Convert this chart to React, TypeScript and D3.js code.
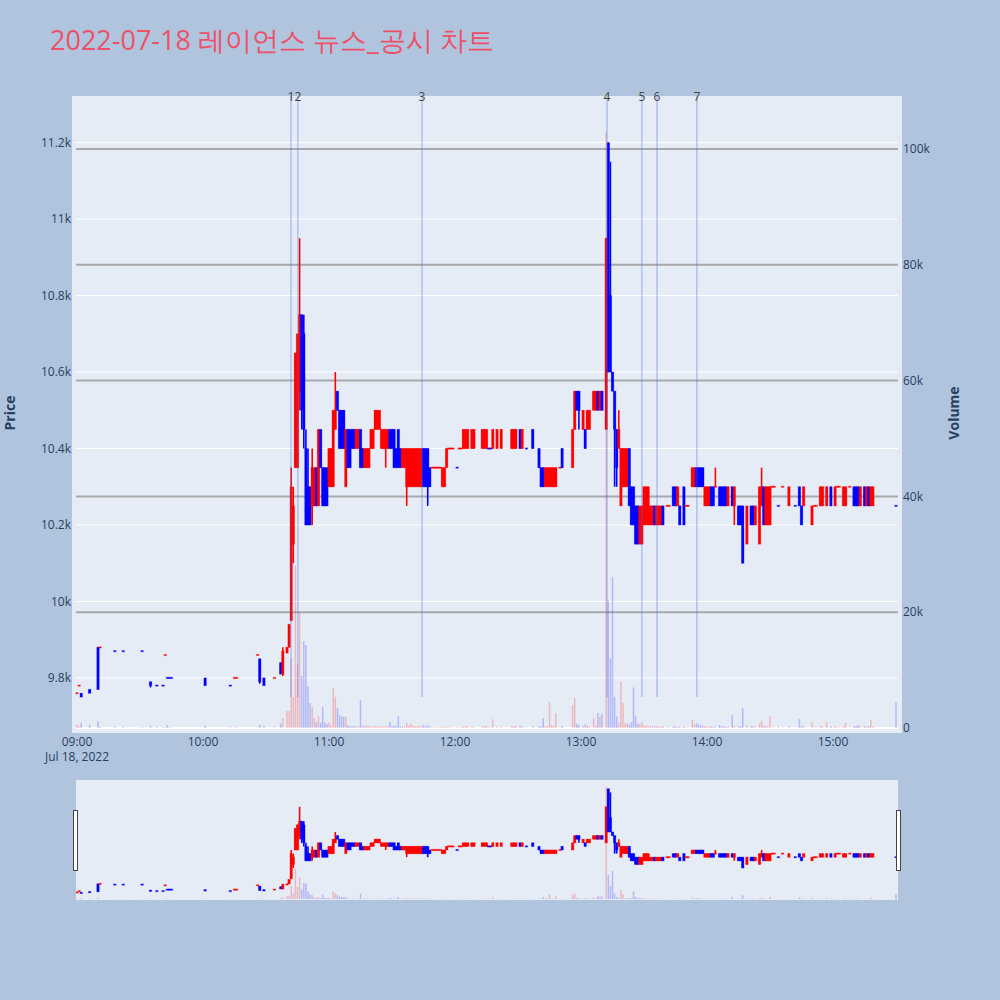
import React from 'react';
import * as d3 from 'd3';

// Each bar: [minute after 09:00, open, close, volume, high?, low?]
type Bar = number[];

const preSurge: Bar[] = [
  [0, 9760, 9760, 600], [1, 9780, 9780, 300], [2, 9760, 9750, 900], [6, 9770, 9760, 500],
  [10, 9880, 9770, 1200], [11, 9880, 9880, 200], [18, 9870, 9870, 200], [22, 9870, 9870, 150],
  [31, 9870, 9870, 150], [35, 9790, 9780, 400, 9790, 9775], [38, 9780, 9780, 150], [41, 9780, 9780, 150],
  [42, 9860, 9860, 100], [43, 9800, 9800, 500], [44, 9800, 9800, 100], [45, 9800, 9800, 100],
  [61, 9800, 9780, 400], [73, 9780, 9780, 100], [75, 9800, 9800, 100], [76, 9800, 9800, 100],
  [86, 9860, 9860, 100], [87, 9850, 9790, 600, 9850, 9785], [89, 9800, 9780, 400], [94, 9800, 9800, 150],
  [97, 9840, 9810, 800], [98, 9810, 9870, 1700, 9880, 9805], [100, 9865, 9880, 2900], [101, 9880, 9940, 2900],
];

const surge: Bar[] = [
  [102, 9950, 10300, 12000, 10350, 9950], [103, 10150, 10250, 5400, 10300, 10100],
  [104, 10350, 10650, 28000], [105, 10350, 10700, 11000], [106, 10550, 10750, 20000, 10950, 10500],
  [107, 10750, 10500, 9000, 10750, 10450], [108, 10700, 10450, 15000, 10750, 10400],
  [109, 10400, 10200, 14300, 10450], [110, 10300, 10200, 7200, 10400], [111, 10300, 10200, 4300],
  [112, 10250, 10350, 3600, 10400, 10200], [113, 10250, 10350, 1700], [114, 10350, 10250, 1000],
  [115, 10250, 10450, 2000], [116, 10450, 10350, 900], [117, 10350, 10250, 3600], [118, 10350, 10250, 1000],
  [119, 10350, 10250, 700], [120, 10300, 10400, 1000], [121, 10300, 10400, 500], [122, 10300, 10500, 6900],
  [123, 10450, 10500, 5400, 10600], [124, 10550, 10500, 3500], [125, 10500, 10400, 2200], [126, 10500, 10400, 2000],
  [127, 10500, 10400, 1900], [128, 10300, 10450, 2000], [129, 10450, 10350, 500], [130, 10450, 10350, 300],
  [131, 10450, 10400, 300], [132, 10450, 10400, 300], [133, 10400, 10450, 300], [134, 10400, 10450, 300],
  [135, 10450, 10350, 4800], [136, 10400, 10350, 300], [137, 10350, 10400, 400],
  [138, 10350, 10400, 400], [139, 10350, 10400, 300], [140, 10400, 10450, 300], [141, 10400, 10450, 200],
  [142, 10450, 10500, 400], [143, 10450, 10500, 300], [144, 10450, 10500, 300], [145, 10400, 10450, 200],
  [146, 10400, 10450, 200], [147, 10400, 10450, 300, 10450, 10350], [148, 10400, 10450, 300],
  [149, 10450, 10400, 1000], [150, 10450, 10400, 300], [151, 10450, 10350, 400], [152, 10400, 10350, 300],
  [153, 10450, 10350, 2000], [154, 10400, 10350, 300], [155, 10350, 10400, 300], [156, 10350, 10400, 300],
  [157, 10300, 10400, 900, 10400, 10250], [158, 10300, 10400, 400],
  [159, 10300, 10400, 700], [160, 10300, 10400, 400], [161, 10300, 10400, 300], [162, 10300, 10400, 300],
  [163, 10300, 10400, 300], [164, 10300, 10400, 300], [165, 10400, 10300, 500], [166, 10400, 10300, 300],
  [167, 10400, 10300, 500, 10400, 10250], [168, 10350, 10300, 200],
];

const midday: Bar[] = [
  [169, 10350, 10350, 100], [170, 10350, 10350, 100], [171, 10350, 10350, 100], [172, 10350, 10350, 100],
  [173, 10350, 10350, 100], [174, 10300, 10350, 200], [175, 10300, 10350, 200], [176, 10350, 10400, 200],
  [177, 10400, 10400, 100], [178, 10400, 10400, 100], [179, 10400, 10400, 100], [181, 10350, 10350, 100],
  [182, 10400, 10400, 100], [183, 10400, 10400, 100], [184, 10400, 10450, 300], [185, 10400, 10450, 300],
  [186, 10400, 10450, 300], [188, 10400, 10450, 200], [189, 10400, 10450, 200], [193, 10400, 10450, 300],
  [194, 10400, 10450, 300], [195, 10400, 10450, 300], [196, 10400, 10400, 100], [197, 10400, 10400, 100],
  [198, 10400, 10450, 1500], [200, 10400, 10450, 200], [202, 10400, 10450, 200], [207, 10400, 10450, 300],
  [208, 10400, 10450, 300], [209, 10400, 10450, 300], [211, 10450, 10400, 400], [212, 10400, 10450, 300],
  [214, 10400, 10400, 100], [217, 10450, 10400, 300], [220, 10400, 10350, 300], [221, 10350, 10300, 300],
  [222, 10350, 10300, 1700], [223, 10300, 10350, 400], [224, 10300, 10350, 300], [225, 10300, 10350, 4500],
  [226, 10300, 10350, 500], [227, 10300, 10350, 300], [228, 10300, 10350, 2600], [230, 10350, 10350, 100],
  [231, 10400, 10350, 300], [236, 10350, 10450, 4000], [237, 10450, 10550, 5200], [238, 10550, 10500, 800],
  [239, 10550, 10500, 500, 10550, 10450], [241, 10450, 10500, 400], [242, 10450, 10400, 600],
  [243, 10450, 10500, 400], [244, 10450, 10500, 300], [246, 10500, 10550, 1700], [247, 10500, 10550, 400],
  [248, 10550, 10500, 2600], [249, 10500, 10550, 2000], [250, 10550, 10500, 2500],
];

const spike: Bar[] = [
  [252, 10450, 10950, 103000], [253, 11200, 10600, 22000], [254, 10800, 10600, 12000, 11150],
  [255, 10600, 10550, 26000], [256, 10550, 10450, 5400, 10550, 10300], [257, 10450, 10350, 2000, 10450, 10300],
  [258, 10400, 10450, 900, 10500], [259, 10250, 10400, 8000], [260, 10300, 10400, 4300], [261, 10300, 10400, 800],
  [262, 10300, 10400, 800], [263, 10400, 10250, 600], [264, 10300, 10200, 1000], [265, 10300, 10200, 7000],
  [266, 10250, 10150, 2000], [267, 10250, 10150, 800], [268, 10150, 10250, 700], [269, 10150, 10250, 1000],
  [270, 10200, 10300, 400], [271, 10200, 10300, 400], [272, 10200, 10300, 300], [273, 10200, 10250, 300],
  [274, 10200, 10250, 400], [275, 10250, 10200, 300], [276, 10200, 10250, 300], [277, 10200, 10250, 300],
  [278, 10200, 10250, 200], [279, 10250, 10200, 300], [281, 10250, 10250, 100], [282, 10250, 10250, 100],
];

const afternoon: Bar[] = [
  [284, 10300, 10250, 300], [285, 10300, 10250, 300], [286, 10250, 10300, 200], [287, 10250, 10200, 200],
  [289, 10300, 10200, 200], [290, 10250, 10250, 100], [291, 10250, 10250, 100], [293, 10300, 10350, 1400],
  [294, 10300, 10350, 600], [295, 10350, 10300, 800], [296, 10350, 10300, 600], [297, 10350, 10300, 400],
  [298, 10350, 10300, 400], [299, 10250, 10300, 300], [300, 10250, 10300, 300], [301, 10250, 10300, 200],
  [302, 10300, 10250, 300], [303, 10300, 10250, 200], [304, 10300, 10300, 200, 10350], [306, 10300, 10250, 500],
  [307, 10300, 10250, 300], [308, 10300, 10250, 300], [309, 10300, 10250, 200], [310, 10250, 10300, 200],
  [312, 10300, 10250, 2200], [313, 10250, 10300, 300, 10300, 10200], [315, 10250, 10200, 300],
  [316, 10250, 10200, 300], [317, 10250, 10100, 3400], [319, 10150, 10250, 500], [321, 10250, 10200, 300],
  [322, 10250, 10200, 300], [323, 10200, 10250, 300], [325, 10150, 10300, 800], [326, 10250, 10300, 1200, 10350],
  [327, 10300, 10200, 300], [328, 10200, 10300, 300], [329, 10200, 10300, 300], [330, 10200, 10300, 2000],
  [331, 10300, 10300, 100], [332, 10300, 10300, 100], [334, 10250, 10250, 200], [336, 10300, 10300, 100],
  [339, 10250, 10300, 300], [342, 10250, 10250, 100], [344, 10300, 10250, 1500], [345, 10250, 10200, 300],
  [346, 10250, 10300, 300], [350, 10200, 10250, 1000], [351, 10250, 10250, 100], [352, 10250, 10250, 100],
  [354, 10250, 10300, 300], [355, 10250, 10300, 300], [357, 10250, 10300, 1000], [359, 10300, 10250, 300],
  [361, 10250, 10300, 300], [362, 10300, 10300, 100], [363, 10300, 10300, 100], [365, 10250, 10300, 300],
  [366, 10250, 10300, 900], [368, 10300, 10300, 100], [370, 10300, 10250, 300], [371, 10300, 10250, 300],
  [372, 10300, 10250, 500], [373, 10250, 10300, 300], [375, 10300, 10250, 300], [376, 10250, 10300, 300],
  [377, 10300, 10250, 300], [378, 10250, 10300, 1400], [379, 10250, 10300, 300], [390, 10250, 10250, 4500],
];

const SESSION_DATE = '2022-07-18';
const TITLE = '2022-07-18 레이언스 뉴스_공시 차트';
const NEWS_TIMES = ['10:41:54', '10:45:12', '11:44:18', '13:12:24', '13:29:00', '13:36:12', '13:55:12'];
const NEWS_LABELS = ['1', '2', '3', '4', '5', '6', '7'];
const NEWS_FLOOR_PRICE = 9750;
const PRICE_TICKS = [9800, 10000, 10200, 10400, 10600, 10800, 11000, 11200];
const VOLUME_TICKS = [0, 20000, 40000, 60000, 80000, 100000];
const X_RANGE = ['08:59:31', '15:30:57'];
const PRICE_RANGE = [9656, 11322];
const VOLUME_RANGE = [-864, 109154];

const FONT = '"Open Sans", verdana, arial, sans-serif';
const INK = '#2a3f5f';
const UP = '#ff0000';
const DOWN = '#0000ff';

type Row = { t: Date; o: number; c: number; h: number; l: number; v: number; inc: boolean };

function buildRows(): Row[] {
  const parse = d3.timeParse('%Y-%m-%d %H:%M:%S');
  const base = parse(`${SESSION_DATE} 09:00:00`) as Date;
  const all = [...preSurge, ...surge, ...midday, ...spike, ...afternoon];
  let prevC: number | null = null;
  let inc = true;
  return all.map((r) => {
    const [m, o, c, v, h, l] = r;
    if (c !== o) inc = c > o;
    else if (prevC !== null && c !== prevC) inc = c > prevC;
    prevC = c;
    return {
      t: d3.timeMinute.offset(base, m),
      o, c, v,
      h: Math.max(o, c, h ?? o),
      l: Math.min(o, c, l ?? o),
      inc,
    };
  });
}

function Candles({ rows, x, y, yv, k }: { rows: Row[]; x: any; y: any; yv: any; k: string }) {
  return (
    <g>
      {rows.map((d, i) => {
        const cx = x(d.t);
        const col = d.inc ? UP : DOWN;
        const top = y(Math.max(d.o, d.c));
        const bot = y(Math.min(d.o, d.c));
        const hgt = Math.max(bot - top, 1.2);
        return (
          <g key={`${k}c${i}`}>
            <line x1={cx} x2={cx} y1={y(d.h)} y2={y(d.l)} stroke={col} strokeWidth={1.6} />
            <rect x={cx - 1.2} y={top - (hgt - (bot - top)) / 2} width={2.4} height={hgt} fill={col}
              stroke={col} strokeOpacity={0.35} strokeWidth={1} />
          </g>
        );
      })}
      {rows.map((d, i) => {
        const cx = x(d.t);
        return (
          <rect key={`${k}v${i}`} x={cx - 0.75} width={1.5} y={yv(d.v)} height={Math.max(yv(0) - yv(d.v), 0)}
            fill={d.inc ? UP : DOWN} fillOpacity={0.22} />
        );
      })}
    </g>
  );
}

export default function App() {
  const rows = buildRows();
  const parse = d3.timeParse('%Y-%m-%d %H:%M:%S');
  const x = d3.scaleTime()
    .domain([parse(`${SESSION_DATE} ${X_RANGE[0]}`) as Date, parse(`${SESSION_DATE} ${X_RANGE[1]}`) as Date])
    .range([76, 898]);
  const y = d3.scaleLinear().domain(PRICE_RANGE).range([733, 96]);
  const yv = d3.scaleLinear().domain(VOLUME_RANGE).range([733, 96]);
  const ys = d3.scaleLinear().domain(PRICE_RANGE).range([900, 780]);
  const yvs = d3.scaleLinear().domain(VOLUME_RANGE).range([900, 780]);
  const fmt = d3.format('~s');
  const tfmt = d3.timeFormat('%H:%M');
  const xTicks = x.ticks(d3.timeHour.every(1) as any);
  const news = NEWS_TIMES.map((s) => parse(`${SESSION_DATE} ${s}`) as Date);

  return (
    <svg width={1000} height={1000} style={{ position: 'absolute', left: 0, top: 0, fontFamily: FONT }}>
      <defs>
        <clipPath id="plotclip"><rect x={72} y={96} width={830} height={637} /></clipPath>
        <clipPath id="sliderclip"><rect x={76} y={780} width={822} height={120} /></clipPath>
      </defs>
      <rect x={0} y={0} width={1000} height={1000} fill="#B0C4DE" />
      <text x={50} y={50} fontSize={27} fill="#ED5168">{TITLE}</text>

      <rect x={72} y={96} width={830} height={637} fill="#E5ECF6" />
      {PRICE_TICKS.map((t) => (
        <line key={`pg${t}`} x1={76} x2={898} y1={y(t)} y2={y(t)} stroke="#ffffff" strokeWidth={1} />
      ))}
      {VOLUME_TICKS.filter((t) => t > 0).map((t) => (
        <line key={`vg${t}`} x1={76} x2={898} y1={yv(t)} y2={yv(t)} stroke="#a9a9ad" strokeWidth={2} />
      ))}
      <line x1={76} x2={898} y1={yv(0)} y2={yv(0)} stroke="#ffffff" strokeWidth={2} />

      <g clipPath="url(#plotclip)">
        <Candles rows={rows} x={x} y={y} yv={yv} k="m" />
      </g>

      {news.map((t, i) => (
        <g key={`n${i}`}>
          <line x1={x(t)} x2={x(t)} y1={96} y2={y(NEWS_FLOOR_PRICE)} stroke="rgb(65,105,225)" strokeOpacity={0.5} strokeWidth={1} />
          <text x={x(t)} y={101} fontSize={12} fill="#444" textAnchor="middle">{NEWS_LABELS[i]}</text>
        </g>
      ))}

      {PRICE_TICKS.map((t) => (
        <text key={`pl${t}`} x={71} y={y(t)} dy="0.35em" fontSize={12} fill={INK} textAnchor="end">{fmt(t)}</text>
      ))}
      {VOLUME_TICKS.map((t) => (
        <text key={`vl${t}`} x={903} y={yv(t)} dy="0.35em" fontSize={12} fill={INK} textAnchor="start">{fmt(t)}</text>
      ))}
      {xTicks.map((t, i) => (
        <g key={`xt${i}`}>
          <text x={x(t)} y={746} fontSize={12} fill={INK} textAnchor="middle">{tfmt(t)}</text>
          {i === 0 && (
            <text x={x(t)} y={761} fontSize={12} fill={INK} textAnchor="middle">{d3.timeFormat('%b %-d, %Y')(t)}</text>
          )}
        </g>
      ))}

      <text transform="translate(15,413) rotate(-90)" fontSize={14} fontWeight="bold" fill={INK} textAnchor="middle">Price</text>
      <text transform="translate(959,413) rotate(-90)" fontSize={14} fontWeight="bold" fill={INK} textAnchor="middle">Volume</text>

      <rect x={76} y={780} width={822} height={120} fill="#E5ECF6" />
      <g clipPath="url(#sliderclip)">
        <Candles rows={rows} x={x} y={ys} yv={yvs} k="s" />
      </g>
      <rect x={73.5} y={810.5} width={4} height={60} fill="#ffffff" stroke="#444" strokeWidth={1} />
      <rect x={896.5} y={810.5} width={4} height={60} fill="#ffffff" stroke="#444" strokeWidth={1} />
    </svg>
  );
}
